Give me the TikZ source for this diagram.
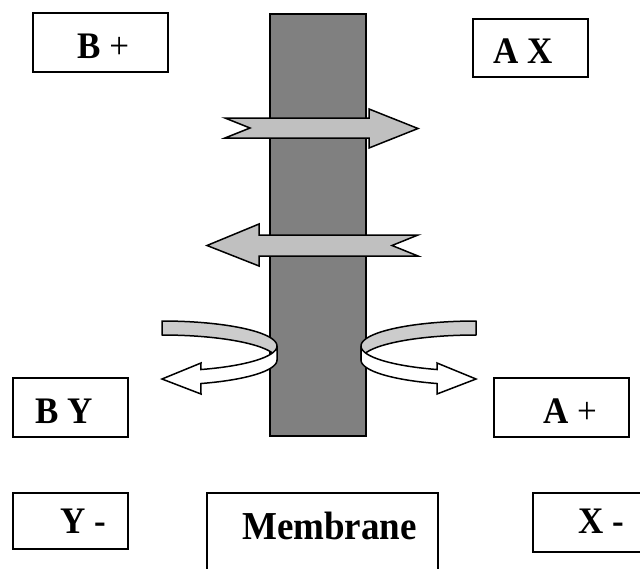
\documentclass[tikz,border=0pt]{standalone}
\usepackage{fontspec}
\setmainfont{Liberation Serif}
\definecolor{bargray}{HTML}{808080}
\definecolor{arrowgray}{HTML}{C0C0C0}
\definecolor{bandgray}{HTML}{CCCCCC}
\newcommand{\tallt}[1]{\scalebox{1}[1.07]{#1}}
\begin{document}
\begin{tikzpicture}[x=1pt,y=-1pt,
  labelbox/.style={draw=black,line width=1.6pt,fill=white,rectangle,inner sep=0pt},
  lbl/.style={anchor=base west,inner sep=0pt,font=\fontsize{35}{40}\selectfont\bfseries},
  arrowshape/.style={draw=black,line width=1.5pt,line join=miter,fill=arrowgray},
  bandshape/.style={draw=black,line width=1.5pt,line join=round,fill=bandgray},
  frontshape/.style={draw=black,line width=1.5pt,line join=miter,fill=white},
  ell/.style={domain=#1,samples=40,variable=\t}]
\path[use as bounding box] (0,0) rectangle (640,568);
\clip (0,0) rectangle (640,568);
\fill[white] (0,0) rectangle (640,568);

% boxes
\node[labelbox,minimum width=135pt,minimum height=59pt] (bplus) at (100.5,42.5) {};
\node[labelbox,minimum width=115pt,minimum height=58pt] (ax) at (530.5,48) {};
\node[labelbox,minimum width=115pt,minimum height=59pt] (by) at (70.5,407.5) {};
\node[labelbox,minimum width=135pt,minimum height=59pt] (aplus) at (561.5,407.5) {};
\node[labelbox,minimum width=115pt,minimum height=56pt] (yminus) at (70.5,521) {};
\node[labelbox,minimum width=231pt,minimum height=127pt] (membrane) at (322.5,556.5) {};
\node[labelbox,minimum width=147pt,minimum height=59pt] (xminus) at (606.5,522.5) {};

% texts
\node[lbl] (tbplus) at (77,58) {\tallt{B {\mdseries +}}};
\node[lbl] (tax) at (493,63) {\tallt{A X}};
\node[lbl] (tby) at (35,423) {\tallt{B Y}};
\node[lbl] (taplus) at (543,423) {\tallt{A {\mdseries +}}};
\node[lbl] (tyminus) at (60,533) {\tallt{Y -}};
\node[lbl,font=\fontsize{37}{42}\selectfont\bfseries] (tmembrane) at (242,539) {\tallt{Membrane}};
\node[lbl] (txminus) at (578,533) {\tallt{X -}};

% membrane bar
\node[draw=black,line width=1.6pt,fill=bargray,minimum width=96pt,minimum height=422pt,inner sep=0pt] (bar) at (318,225) {};

% straight arrows
\path[arrowshape] (225,118) -- (250,128) -- (225,138) -- (369,138) -- (369,148)
  -- (418,128.5) -- (369,109) -- (369,118) -- cycle;
\path[arrowshape] (207,245.5) -- (259,224) -- (259,235) -- (418,235) -- (392,245.5)
  -- (418,256) -- (259,256) -- (259,266) -- cycle;

% left curled arrow
\path[bandshape] plot[ell=-90:0] ({162+115*cos(\t)},{346+25*sin(\t)})
  -- plot[ell=0:-90] ({162+115*cos(\t)},{360+25*sin(\t)}) -- cycle;
\path[frontshape] plot[ell=0:70.2] ({162+115*cos(\t)},{346+25*sin(\t)})
  -- (201,363) -- (162,379) -- (201,394)
  -- plot[ell=70.2:0] ({162+115*cos(\t)},{360+25*sin(\t)}) -- cycle;

% right curled arrow
\path[bandshape] plot[ell=-90:0] ({476-115*cos(\t)},{346+25*sin(\t)})
  -- plot[ell=0:-90] ({476-115*cos(\t)},{360+25*sin(\t)}) -- cycle;
\path[frontshape] plot[ell=0:70.2] ({476-115*cos(\t)},{346+25*sin(\t)})
  -- (437,363) -- (476,379) -- (437,394)
  -- plot[ell=70.2:0] ({476-115*cos(\t)},{360+25*sin(\t)}) -- cycle;
\end{tikzpicture}
\end{document}
